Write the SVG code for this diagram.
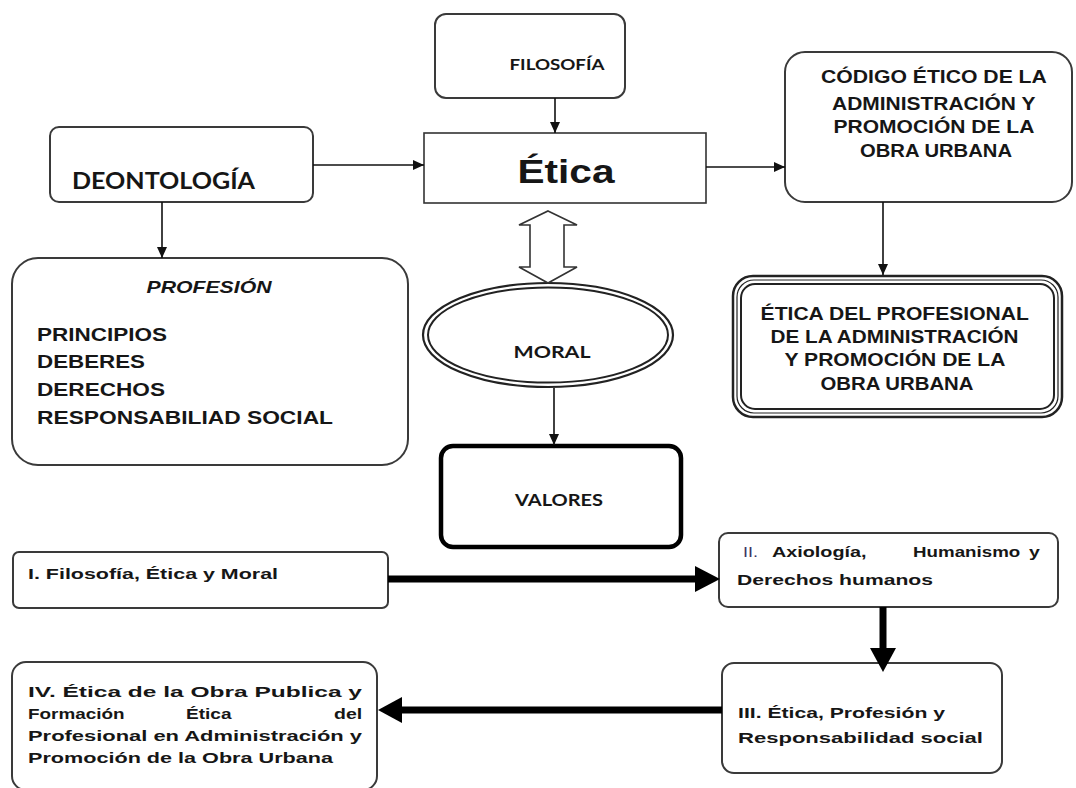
<svg xmlns="http://www.w3.org/2000/svg" width="1076" height="788" viewBox="0 0 1076 788">
<style>
.box{fill:#fff;stroke:#3a3a3a;stroke-width:2}
.cal{font-family:Lato,"Open Sans","Liberation Sans",sans-serif;font-weight:bold;fill:#161616}
.ar{font-family:"Liberation Sans",Arial,sans-serif;font-weight:bold;fill:#161616}
.thin{stroke:#111;stroke-width:1.6;fill:none}
.thick{stroke:#000;stroke-width:7;fill:none}
.head{fill:#000}
</style>
<defs>
<marker id="ah" markerUnits="userSpaceOnUse" markerWidth="12" markerHeight="12" viewBox="0 0 12 12" refX="11" refY="6" orient="auto">
<path d="M0,1 L11,6 L0,11 Z" fill="#111"/>
</marker>
</defs>
<rect width="1076" height="788" fill="#fff"/>

<g id="filosofia">
<rect class="box" x="435" y="14" width="190" height="84" rx="11"/>
<text class="cal" x="557" y="70" font-size="16" text-anchor="middle" textLength="95" lengthAdjust="spacingAndGlyphs">FILOSOFÍA</text>
</g>

<g id="deontologia">
<rect class="box" x="50" y="127" width="263" height="75" rx="9"/>
<text class="cal" x="72" y="189" font-size="22" textLength="183" lengthAdjust="spacingAndGlyphs">DEONTOLOGÍA</text>
</g>

<g id="etica">
<rect x="424" y="133" width="282" height="70" fill="#fff" stroke="#333" stroke-width="1.6"/>
<text class="ar" x="566" y="183" font-size="33" text-anchor="middle" textLength="97" lengthAdjust="spacingAndGlyphs">Ética</text>
</g>

<g id="codigo">
<rect class="box" x="785" y="52" width="287" height="150" rx="20"/>
<text class="ar" font-size="17.5" text-anchor="middle">
<tspan x="936" y="83" textLength="225" lengthAdjust="spacingAndGlyphs">CÓDIGO ÉTICO DE LA</tspan>
<tspan x="936" y="110" textLength="203" lengthAdjust="spacingAndGlyphs">ADMINISTRACIÓN Y</tspan>
<tspan x="936" y="133" textLength="200" lengthAdjust="spacingAndGlyphs">PROMOCIÓN DE LA</tspan>
<tspan x="936" y="157" textLength="152" lengthAdjust="spacingAndGlyphs">OBRA URBANA</tspan>
</text>
</g>

<g id="profesion">
<rect class="box" x="12" y="258" width="396" height="207" rx="26"/>
<text class="ar" x="209" y="293" font-size="16.5" font-style="italic" text-anchor="middle" textLength="125" lengthAdjust="spacingAndGlyphs">PROFESIÓN</text>
<text class="ar" font-size="18">
<tspan x="37" y="341" textLength="130" lengthAdjust="spacingAndGlyphs">PRINCIPIOS</tspan>
<tspan x="37" y="368" textLength="108" lengthAdjust="spacingAndGlyphs">DEBERES</tspan>
<tspan x="37" y="396" textLength="128" lengthAdjust="spacingAndGlyphs">DERECHOS</tspan>
<tspan x="37" y="424" textLength="296" lengthAdjust="spacingAndGlyphs">RESPONSABILIAD SOCIAL</tspan>
</text>
</g>

<g id="moral">
<ellipse cx="548" cy="335" rx="125" ry="52" fill="#fff" stroke="#222" stroke-width="2.2"/>
<ellipse cx="548" cy="335" rx="120" ry="47.5" fill="none" stroke="#222" stroke-width="2"/>
<text class="cal" x="552" y="358" font-size="17" text-anchor="middle" textLength="77" lengthAdjust="spacingAndGlyphs">MORAL</text>
</g>

<g id="valores">
<rect x="441" y="446" width="240" height="101" rx="12" fill="#fff" stroke="#000" stroke-width="4.5"/>
<text class="cal" x="559" y="506" font-size="17" text-anchor="middle" textLength="88" lengthAdjust="spacingAndGlyphs">VALORES</text>
</g>

<g id="etica-profesional">
<rect x="733" y="276" width="329" height="141" rx="20" fill="#fff" stroke="#222" stroke-width="2.5"/>
<rect x="737" y="280" width="321" height="133" rx="17" fill="none" stroke="#222" stroke-width="1.2"/>
<rect x="741" y="284" width="313" height="125" rx="14" fill="none" stroke="#222" stroke-width="2"/>
<text class="ar" font-size="17.5" text-anchor="middle">
<tspan x="897" y="320" textLength="268" lengthAdjust="spacingAndGlyphs">ÉTICA DEL PROFESIONAL</tspan>
<tspan x="897" y="343" textLength="248" lengthAdjust="spacingAndGlyphs">DE LA ADMINISTRACIÓN</tspan>
<tspan x="897" y="366" textLength="220" lengthAdjust="spacingAndGlyphs">Y PROMOCIÓN DE LA</tspan>
<tspan x="897" y="390" textLength="153" lengthAdjust="spacingAndGlyphs">OBRA URBANA</tspan>
</text>
</g>

<g id="tema1">
<rect class="box" x="13" y="552" width="375" height="56" rx="6"/>
<text class="ar" x="28" y="579" font-size="15" textLength="250" lengthAdjust="spacingAndGlyphs">I. Filosofía, Ética y Moral</text>
</g>

<g id="tema2">
<rect class="box" x="719" y="533" width="339" height="74" rx="9"/>
<text class="ar" font-size="15" transform="translate(743,557) scale(1.2,1)" style="font-weight:normal;fill:#3b3560">II.</text>
<text class="ar" font-size="15" transform="translate(772,557) scale(1.32,1)">Axiología,</text>
<text class="ar" font-size="15" transform="translate(913,557) scale(1.25,1)">Humanismo</text>
<text class="ar" font-size="15" transform="translate(1029,557) scale(1.3,1)">y</text>
<text class="ar" x="737" y="585" font-size="15" textLength="196" lengthAdjust="spacingAndGlyphs">Derechos humanos</text>
</g>

<g id="tema3">
<rect class="box" x="722" y="663" width="280" height="110" rx="12"/>
<text class="ar" x="738" y="718" font-size="15" textLength="207" lengthAdjust="spacingAndGlyphs">III. Ética, Profesión y</text>
<text class="ar" x="738" y="743" font-size="15" textLength="245" lengthAdjust="spacingAndGlyphs">Responsabilidad social</text>
</g>

<g id="tema4">
<rect class="box" x="12" y="662" width="365" height="128" rx="14"/>
<text class="ar" x="28" y="697" font-size="15" textLength="334" lengthAdjust="spacingAndGlyphs">IV. Ética de la Obra Publica y</text>
<text class="ar" font-size="15" transform="translate(28,719) scale(1.26,1)">Formación</text>
<text class="ar" font-size="15" transform="translate(186,719) scale(1.27,1)">Ética</text>
<text class="ar" font-size="15" transform="translate(334,719) scale(1.3,1)">del</text>
<text class="ar" x="28" y="741" font-size="15" textLength="334" lengthAdjust="spacingAndGlyphs">Profesional en Administración y</text>
<text class="ar" x="28" y="763" font-size="15" textLength="305" lengthAdjust="spacingAndGlyphs">Promoción de la Obra Urbana</text>
</g>

<g id="connectors">
<line class="thin" x1="555" y1="98" x2="555" y2="133" marker-end="url(#ah)"/>
<line class="thin" x1="313" y1="165" x2="424" y2="165" marker-end="url(#ah)"/>
<line class="thin" x1="706" y1="167" x2="785" y2="167" marker-end="url(#ah)"/>
<line class="thin" x1="162" y1="202" x2="162" y2="258" marker-end="url(#ah)"/>
<line class="thin" x1="883" y1="202" x2="883" y2="275" marker-end="url(#ah)"/>
<line class="thin" x1="554" y1="388" x2="554" y2="445" marker-end="url(#ah)"/>
<polygon points="548,211 577,225 564,225 564,267 577,267 548,283 519,267 530,267 530,225 519,225" fill="#fff" stroke="#333" stroke-width="1.6"/>
<line class="thick" x1="388" y1="579" x2="697" y2="579"/>
<polygon class="head" points="695,566 720,579 695,592"/>
<line class="thick" x1="883" y1="607" x2="883" y2="650"/>
<polygon class="head" points="870,648 883,672 896,648"/>
<line class="thick" x1="722" y1="710" x2="400" y2="710"/>
<polygon class="head" points="402,697 378,710 402,723"/>
</g>
</svg>
